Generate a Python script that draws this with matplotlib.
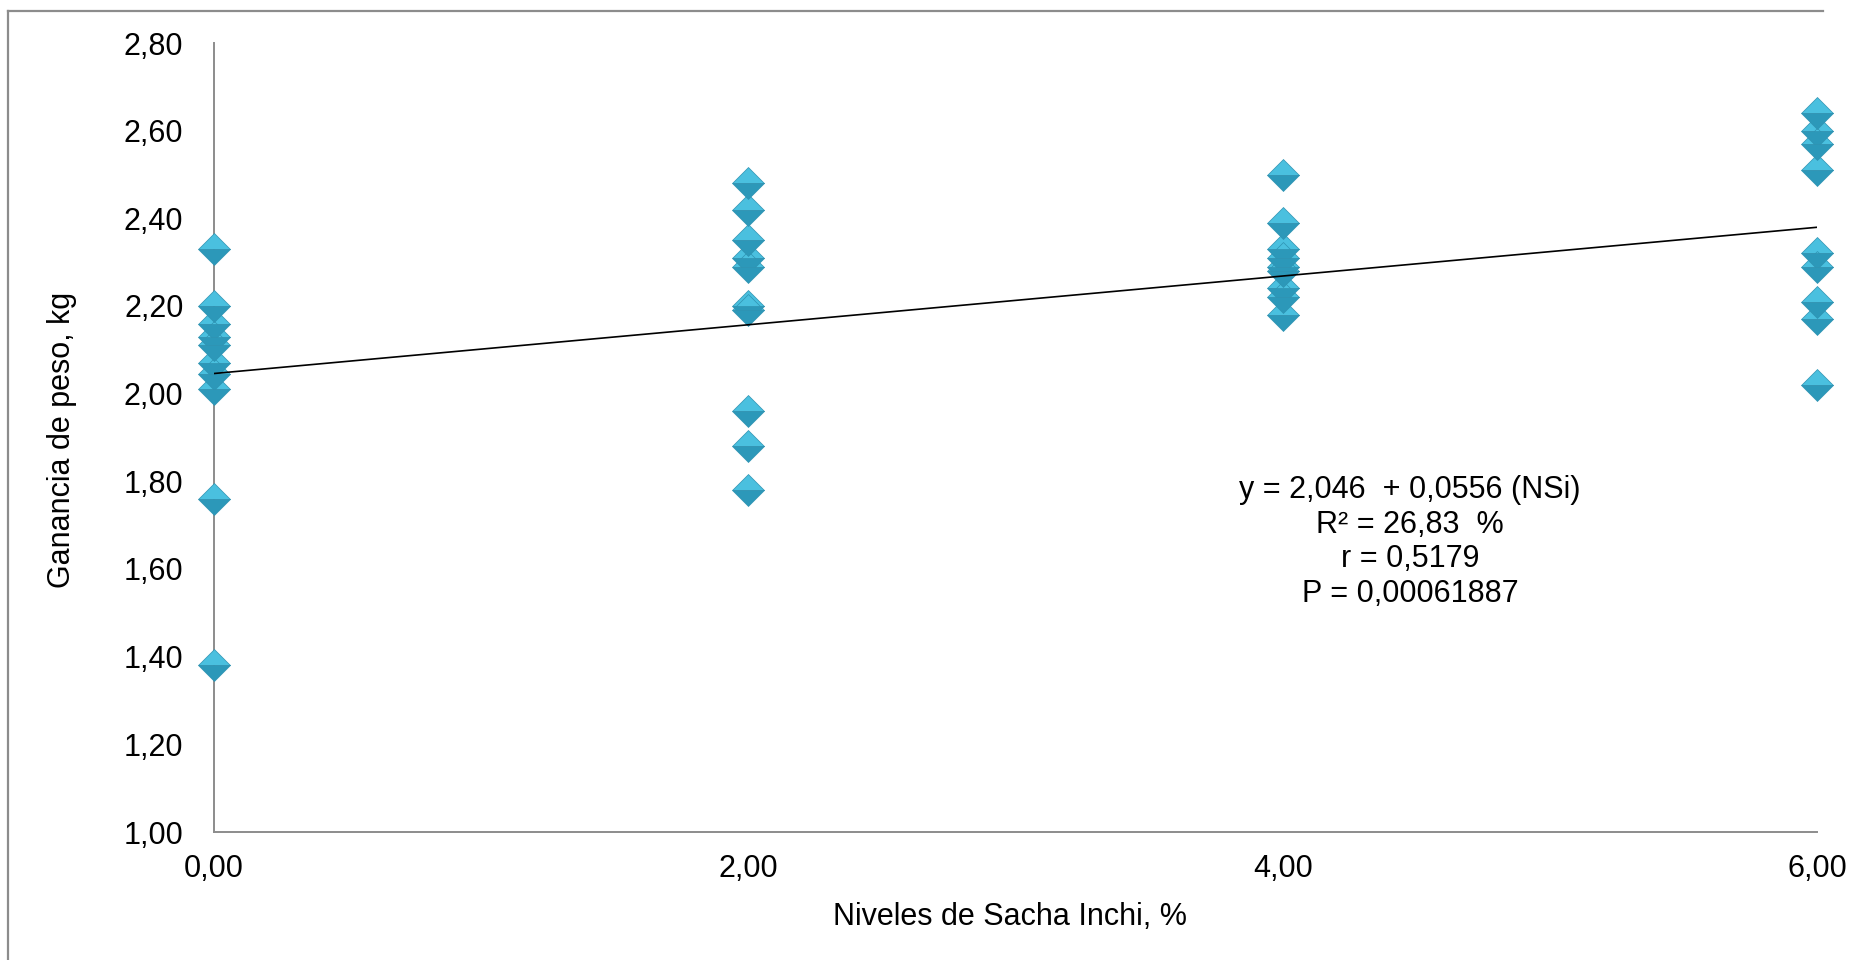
import matplotlib
matplotlib.use("Agg")
import matplotlib.pyplot as plt
from matplotlib.lines import Line2D
import numpy as np

plt.rcParams['font.family'] = ['Liberation Sans', 'DejaVu Sans']

# data
nivel_0 = [2.33, 2.20, 2.16, 2.13, 2.11, 2.07, 2.045, 2.01, 1.76, 1.38]
nivel_2 = [2.48, 2.42, 2.35, 2.31, 2.29, 2.20, 2.19, 1.96, 1.88, 1.78]
nivel_4 = [2.50, 2.39, 2.33, 2.31, 2.29, 2.28, 2.24, 2.22, 2.18]
nivel_6 = [2.64, 2.60, 2.57, 2.51, 2.32, 2.29, 2.21, 2.17, 2.02]
niveles = [0, 2, 4, 6]
intercepto = 2.046
pendiente = 0.0556

y_ticks = [1.0, 1.2, 1.4, 1.6, 1.8, 2.0, 2.2, 2.4, 2.6, 2.8]
x_ticks = [0, 2, 4, 6]

texto = "y = 2,046  + 0,0556 (NSi)\nR² = 26,83  %\nr = 0,5179\nP = 0,00061887"

W, H = 1861, 960
fig = plt.figure(figsize=(W / 100, H / 100), dpi=100)
ax = fig.add_axes([214 / W, 1 - 832 / H, 1603 / W, 789 / H])

grupos = [nivel_0, nivel_2, nivel_4, nivel_6]
xs = np.concatenate([[n] * len(g) for n, g in zip(niveles, grupos)])
ys = np.concatenate(grupos)
ax.plot(xs, ys, linestyle='none', marker='D', markersize=16,
        fillstyle='top', markerfacecolor='#4ac0df', markerfacecoloralt='#2c98b9',
        markeredgecolor='#2f93b2', markeredgewidth=0.5, clip_on=False, zorder=3)

xl = np.array([0, 6])
ax.plot(xl, intercepto + pendiente * xl, color='black', linewidth=1.2, zorder=4)

ax.set_xlim(0, 6)
ax.set_ylim(1.0, 2.8)
ax.set_yticks(y_ticks)
ax.set_yticklabels([f"{v:.2f}".replace('.', ',') for v in y_ticks])
ax.set_xticks(x_ticks)
ax.set_xticklabels([f"{v:.2f}".replace('.', ',') for v in x_ticks])
ax.tick_params(axis='both', length=0, labelsize=22)
ax.tick_params(axis='y', pad=22)
ax.tick_params(axis='x', pad=16)

for s in ['top', 'right']:
    ax.spines[s].set_visible(False)
for s in ['left', 'bottom']:
    ax.spines[s].set_color('#8c8c8c')
    ax.spines[s].set_linewidth(1.4)

ax.set_xlabel("Niveles de Sacha Inchi, %", fontsize=22)
ax.set_ylabel("Ganancia de peso, kg", fontsize=22)
ax.xaxis.set_label_coords(0.4963, -0.1077)
ax.xaxis.label.set_va('center')
ax.yaxis.set_label_coords(-0.0948, 0.497)
ax.yaxis.label.set_va('center')

ax.text(4.476, 1.662, texto, ha='center', va='center', fontsize=22,
        linespacing=1.2, multialignment='center')

# outer chart frame (cropped at right and bottom)
fig.add_artist(Line2D([8 / W, 1823 / W], [1 - 11 / H, 1 - 11 / H],
                      color='#8c8c8c', linewidth=1.6, transform=fig.transFigure))
fig.add_artist(Line2D([8 / W, 8 / W], [1 - 11 / H, 0],
                      color='#8c8c8c', linewidth=1.6, transform=fig.transFigure))

fig.savefig("out.png", dpi=100)
